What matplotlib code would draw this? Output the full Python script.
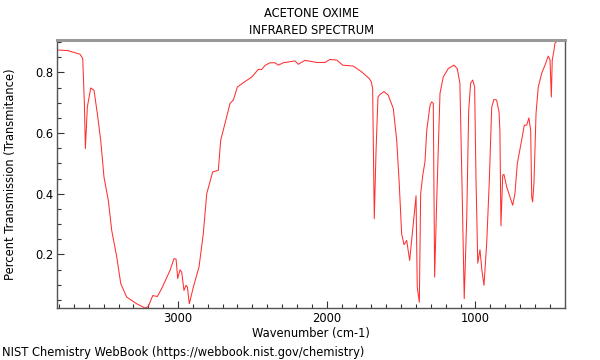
import matplotlib
matplotlib.use("Agg")
import matplotlib.pyplot as plt
from matplotlib.ticker import MultipleLocator

title_lines = ["ACETONE OXIME", "INFRARED SPECTRUM"]
x_label = "Wavenumber (cm-1)"
y_label = "Percent Transmission (Transmitance)"
footer = "NIST Chemistry WebBook (https://webbook.nist.gov/chemistry)"

wavenumber = [
    3812, 3805, 3740, 3659, 3641, 3630, 3623, 3610, 3587, 3565,
    3543, 3520, 3498, 3469, 3446, 3412, 3385, 3345, 3278, 3222,
    3200, 3170, 3139, 3110, 3054, 3027, 3013, 3002, 2987, 2975,
    2960, 2946, 2937, 2924, 2897, 2859, 2830, 2807, 2767, 2729,
    2713, 2684, 2650, 2628, 2601, 2561, 2504, 2460, 2437, 2415,
    2381, 2348, 2325, 2292, 2213, 2191, 2146, 2067, 2011, 1978,
    1933, 1892, 1821, 1765, 1714, 1700, 1691, 1680, 1668, 1655,
    1642, 1615, 1586, 1552, 1529, 1512, 1496, 1480, 1462, 1442,
    1422, 1399, 1391, 1377, 1368, 1354, 1339, 1327, 1305, 1294,
    1283, 1274, 1260, 1238, 1216, 1182, 1144, 1122, 1104, 1090,
    1075, 1058, 1045, 1032, 1018, 1005, 996, 984, 969, 956,
    942, 924, 907, 890, 875, 857, 841, 835, 828, 816,
    808, 789, 767, 749, 734, 718, 689, 671, 655, 640,
    628, 621, 615, 606, 592, 577, 554, 532, 510, 498,
    489, 483, 471, 465, 443, 420, 395]
transmittance = [
    0.874, 0.874, 0.872, 0.860, 0.846, 0.700, 0.549, 0.686, 0.749, 0.741,
    0.665, 0.576, 0.455, 0.378, 0.279, 0.191, 0.103, 0.059, 0.037, 0.023,
    0.028, 0.064, 0.061, 0.087, 0.147, 0.186, 0.184, 0.120, 0.149, 0.141,
    0.081, 0.098, 0.092, 0.037, 0.092, 0.158, 0.268, 0.400, 0.472, 0.477,
    0.576, 0.632, 0.698, 0.709, 0.752, 0.766, 0.785, 0.810, 0.810, 0.823,
    0.832, 0.832, 0.824, 0.832, 0.838, 0.827, 0.840, 0.833, 0.833, 0.843,
    0.841, 0.824, 0.821, 0.802, 0.780, 0.769, 0.747, 0.318, 0.543, 0.719,
    0.727, 0.737, 0.725, 0.681, 0.576, 0.433, 0.268, 0.232, 0.246, 0.180,
    0.279, 0.393, 0.092, 0.042, 0.400, 0.461, 0.505, 0.609, 0.692, 0.703,
    0.698, 0.125, 0.378, 0.731, 0.785, 0.813, 0.824, 0.813, 0.764, 0.433,
    0.054, 0.323, 0.675, 0.764, 0.775, 0.752, 0.455, 0.171, 0.215, 0.147,
    0.098, 0.235, 0.433, 0.686, 0.711, 0.709, 0.670, 0.609, 0.294, 0.461,
    0.464, 0.422, 0.389, 0.362, 0.400, 0.499, 0.576, 0.626, 0.626, 0.650,
    0.609, 0.389, 0.373, 0.433, 0.665, 0.752, 0.797, 0.824, 0.854, 0.841,
    0.719, 0.841, 0.874, 0.896, 0.907, 0.907, 0.907]

fs = 8.3
plt.rcParams['font.family'] = ['DejaVu Sans']
fig = plt.figure(figsize=(6, 3.6), dpi=100)
ax = fig.add_axes([0.0955, 0.1444, 0.8467, 0.7436])
ax.plot(wavenumber, transmittance, color='#ff3030', lw=0.75)
ax.set_xlim(3812, 395)
ax.set_ylim(0.023, 0.906)

ax.xaxis.set_major_locator(MultipleLocator(1000))
ax.xaxis.set_minor_locator(MultipleLocator(100))
ax.yaxis.set_major_locator(MultipleLocator(0.2))
ax.yaxis.set_minor_locator(MultipleLocator(0.05))
ax.tick_params(which='both', direction='in', colors='#333333', labelcolor='black',
               labelsize=fs, width=0.8)
ax.tick_params(which='major', length=5, pad=3)
ax.tick_params(which='minor', length=2.7)

ax.spines['top'].set_color('#999999')
ax.spines['top'].set_linewidth(2.2)
for s in ['left', 'right', 'bottom']:
    ax.spines[s].set_color('#555555')
    ax.spines[s].set_linewidth(1.0)

ax.set_xlabel(x_label, fontsize=fs, labelpad=1.5)
ax.set_ylabel(y_label, fontsize=fs)
ax.yaxis.set_label_coords(-0.079, 0.5)
fig.text(0.519, 0.962, title_lines[0], ha='center', va='center', fontsize=fs)
fig.text(0.519, 0.916, title_lines[1], ha='center', va='center', fontsize=fs)
fig.text(0.004, 0.022, footer, ha='left', va='center', fontsize=fs)

fig.savefig('out.png', dpi=100)
